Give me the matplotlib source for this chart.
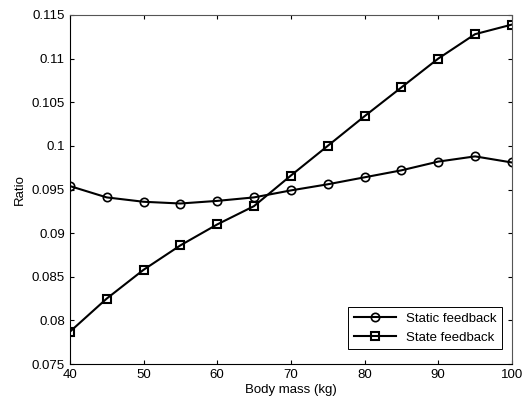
import matplotlib
matplotlib.use("Agg")
import matplotlib.pyplot as plt

plt.rcParams['font.family'] = ['Liberation Sans', 'DejaVu Sans']

body_mass = [40, 45, 50, 55, 60, 65, 70, 75, 80, 85, 90, 95, 100]
static_fb = [0.0954, 0.0941, 0.0936, 0.0934, 0.0937, 0.0941, 0.0949, 0.0956,
             0.0964, 0.0972, 0.0982, 0.0988, 0.0981]
state_fb = [0.0787, 0.0825, 0.0858, 0.0886, 0.0910, 0.0931, 0.0966, 0.1000,
            0.1034, 0.1067, 0.1100, 0.1128, 0.1139]
xticks = [40, 50, 60, 70, 80, 90, 100]
yticks = [0.075, 0.08, 0.085, 0.09, 0.095, 0.1, 0.105, 0.11, 0.115]
ytick_labels = ['0.075', '0.08', '0.085', '0.09', '0.095', '0.1', '0.105', '0.11', '0.115']

fig = plt.figure(figsize=(5.25, 4.05), dpi=100)
ax = fig.add_axes([0.133, 0.101, 0.842, 0.862])

ax.plot(body_mass, static_fb, '-o', color='black', lw=1.5, markersize=6,
        markerfacecolor='none', markeredgewidth=1.2, label='Static feedback')
ax.plot(body_mass, state_fb, '-s', color='black', lw=1.5, markersize=5.8,
        markerfacecolor='none', markeredgewidth=1.5, label='State feedback')

ax.set_xlim(40, 100)
ax.set_ylim(0.075, 0.115)
ax.set_xticks(xticks)
ax.set_xticklabels([str(t) for t in xticks])
ax.set_yticks(yticks)
ax.set_yticklabels(ytick_labels)
ax.tick_params(direction='in', length=3, labelsize=9.5, top=True, right=True,
               width=0.8)
ax.set_xlabel('Body mass (kg)', fontsize=9.5, labelpad=2)
ax.set_ylabel('Ratio', fontsize=9.5, labelpad=4)
for s in ax.spines.values():
    s.set_linewidth(0.8)
for s in ['top', 'right']:
    ax.spines[s].set_color('#555555')
    ax.spines[s].set_linestyle((0, (2, 1)))

leg = ax.legend(loc='lower right', fontsize=9.5, fancybox=False,
                edgecolor='black', framealpha=1, handlelength=3.2,
                bbox_to_anchor=(0.978, 0.043), borderaxespad=0,
                labelspacing=0.5)
leg.get_frame().set_linewidth(0.7)

fig.savefig('out.png', dpi=100)
